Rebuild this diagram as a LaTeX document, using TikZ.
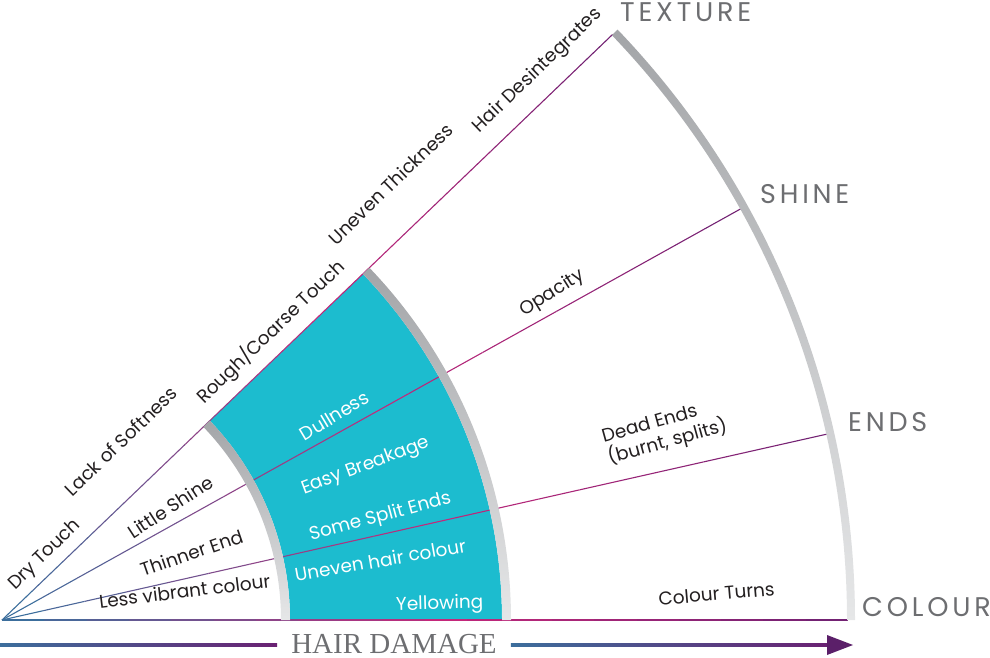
\documentclass[tikz,border=0pt]{standalone}
\usepackage{fontspec}
\setmainfont{Poppins}
\newfontfamily\headfont[LetterSpace=14]{Poppins}
\newfontfamily\damagefont{Liberation Serif}
\usetikzlibrary{positioning}
\definecolor{bandcyan}{HTML}{1CBCCF}
\definecolor{arcdark}{HTML}{A3A5A8}
\definecolor{arclight}{HTML}{E6E7E8}
\definecolor{rayblue}{HTML}{3C6E9C}
\definecolor{raymag}{HTML}{C4287B}
\definecolor{raypurp}{HTML}{6A2172}
\definecolor{arrowpurp}{HTML}{5B1F69}
\definecolor{headgray}{HTML}{6D6E71}
\definecolor{inkdark}{HTML}{231F20}
\begin{document}
\begin{tikzpicture}[
x=1pt, y=1pt, lbl/.style={font=\fontsize{18.5}{22}\selectfont, text=inkdark, inner sep=0pt}, lblwhite/.style={lbl, text=white}, axis/.style={font=\headfont\fontsize{27}{30}\selectfont, text=headgray, anchor=west, inner sep=0pt}, ray/.style={line width=1.1pt, line cap=butt}, greyband/.style={top color=arcdark, bottom color=arclight}, damage/.style={font=\damagefont\fontsize{29}{32}\selectfont, text=headgray, inner xsep=14pt, inner ysep=0pt} ]
\useasboundingbox (0,0) rectangle (990,657);
\coordinate (origin) at (2,37);
\begin{scope}[shift={(origin)}]
\fill[bandcyan] (0:288) arc[start angle=0, end angle=43.8, radius=288] -- (43.8:500) arc[start angle=43.8, end angle=0, radius=500] -- cycle;
\foreach \a in {0, 12.7, 29.1, 43.8}{
  \foreach \i in {0,...,9}{
    \pgfmathtruncatemacro\p{100-10*\i}
    \draw[ray, rayblue!\p!raymag] (\a:{42.3*\i}) -- (\a:{42.3*(\i+1)});
    \draw[ray, raymag!\p!raypurp] (\a:{42.3*(\i+10)}) -- (\a:{42.3*(\i+11)});
  }
}
\foreach \ri/\ro in {279/288, 500/509, 845/853}
  \shade[greyband] (0:\ri) arc[start angle=0, end angle=43.8, radius=\ri] -- (43.8:\ro) arc[start angle=43.8, end angle=0, radius=\ro] -- cycle;
\node[lbl, rotate=44] (drytouch) at (56.5:78) {Dry Touch};
\node[lbl, rotate=44] (lacksoft) at (56.4:215) {Lack of Softness};
\node[lbl, rotate=44] (roughtouch) at (47.0:394) {Rough/Coarse Touch};
\node[lbl, rotate=44] (uneventhick) at (48.3:584) {Uneven Thickness};
\node[lbl, rotate=44] (disintegrate) at (45.7:767) {Hair Desintegrates};
\node[lbl, rotate=33] (littleshine) at (33.9:203) {Little Shine};
\node[lblwhite, rotate=31] (dullness) at (31.6:390) {Dullness};
\node[lbl, rotate=32] (opacity) at (30.7:640) {Opacity};
\node[lbl, rotate=19] (thinnerend) at (19.5:201) {Thinner End};
\node[lblwhite, rotate=20.5] (breakage) at (22.9:395) {Easy Breakage};
\node[lblwhite, rotate=15] (splitends) at (15.2:392) {Some Split Ends};
\node[lbl, rotate=15.5, align=left] (deadends) at (15.8:689) {Dead Ends\\(burnt, splits)};
\node[lbl, rotate=7] (lessvibrant) at (9.0:185) {Less vibrant colour};
\node[lblwhite, rotate=10] (unevencol) at (9.0:383) {Uneven hair colour};
\node[lblwhite, rotate=1.5] (yellowing) at (2.0:438) {Yellowing};
\node[lbl, rotate=5] (colourturns) at (2.1:715) {Colour Turns};
\end{scope}
\node[axis] (texture) at (620,645) {TEXTURE};
\node[axis] (shine) at (760,463) {SHINE};
\node[axis] (ends) at (848,235) {ENDS};
\node[axis] (colour) at (862,50) {COLOUR};
\node[damage] (damage) at (394,13) {HAIR DAMAGE};
\coordinate (damagestart) at (0,12);
\coordinate (damagetip) at (853,12);
\shade[left color=rayblue, middle color=raymag, right color=raypurp] ([yshift=-1.8pt]damagestart) rectangle ([yshift=0.8pt]damage.west);
\shade[left color=rayblue, middle color=raymag, right color=raypurp] ([yshift=-2.8pt]damage.east) rectangle ([xshift=-25pt, yshift=1.8pt]damagetip);
\fill[arrowpurp] ([xshift=-26pt, yshift=10pt]damagetip) -- (damagetip) -- ([xshift=-26pt, yshift=-10pt]damagetip) -- cycle;
\end{tikzpicture}
\end{document}
